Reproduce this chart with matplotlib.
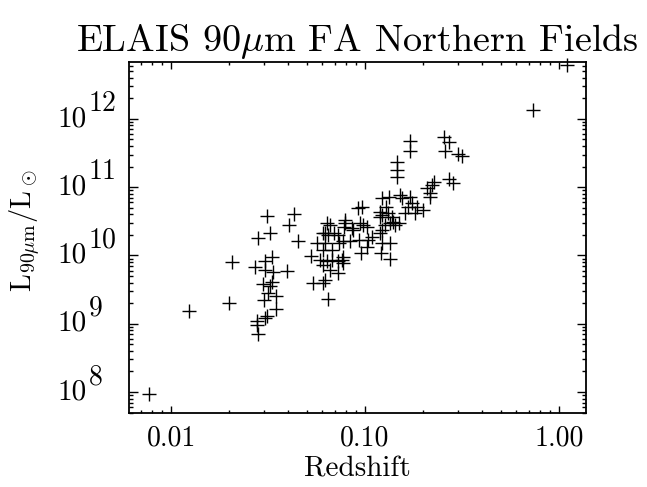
import matplotlib
matplotlib.use("Agg")
import matplotlib.pyplot as plt
from matplotlib.ticker import LogLocator, FixedLocator, FuncFormatter, NullFormatter
from matplotlib.transforms import blended_transform_factory, offset_copy

plt.rcParams["font.family"] = "cmr10"
plt.rcParams["mathtext.fontset"] = "cm"
plt.rcParams["axes.formatter.use_mathtext"] = True

# redshift and 90 micron luminosity (L_sun)
redshift = [
    1.096, 0.737, 0.0123, 0.0200, 0.0206, 0.0077,
    0.170, 0.170, 0.146, 0.146, 0.146, 0.255, 0.272, 0.258, 0.303, 0.317,
    0.271, 0.285, 0.227, 0.208, 0.221, 0.216, 0.215,
    0.152, 0.171, 0.174, 0.167, 0.161, 0.181, 0.185, 0.200,
    0.122, 0.133, 0.129, 0.132, 0.137, 0.135, 0.140, 0.143, 0.149,
    0.120, 0.120, 0.120, 0.122, 0.122, 0.135, 0.121, 0.135,
    0.0635, 0.066, 0.0609, 0.0647, 0.0695, 0.0564, 0.0622, 0.0737,
    0.0527, 0.0587, 0.0635, 0.0673, 0.0758, 0.0609, 0.066, 0.0729,
    0.0542, 0.0622, 0.0609, 0.0642,
    0.0788, 0.0782, 0.0773, 0.0836, 0.0869, 0.0942, 0.098, 0.0923, 0.0968,
    0.0935, 0.104, 0.102, 0.0954, 0.108, 0.0773, 0.0773,
    0.0311, 0.0431, 0.0407, 0.028, 0.0324, 0.0453, 0.0398, 0.0272,
    0.0305, 0.0305, 0.033, 0.0334, 0.0299, 0.033, 0.0324, 0.0317,
    0.0348, 0.0302, 0.0348, 0.0311, 0.0305, 0.0277, 0.0277, 0.0282,
    0.0622, 0.0609, 0.0673, 0.0854, 0.0788, 0.122, 0.127, 0.0729,
    0.0729, 0.102, 0.1546,
]
lum90 = [
    6.24e12, 1.35e12, 1.55e9, 2.0e9, 7.98e9, 9.4e7,
    4.76e11, 3.4e11, 2.32e11, 1.79e11, 1.43e11, 5.5e11, 4.56e11, 3.43e11, 3.04e11, 2.9e11,
    1.31e11, 1.15e11, 1.18e11, 9.67e10, 1.08e11, 8.17e10, 7.28e10,
    7.71e10, 7.28e10, 5.83e10, 5.2e10, 4.16e10, 4.16e10, 5.2e10, 4.65e10,
    6.9e10, 7.28e10, 5.2e10, 4.16e10, 3.71e10, 2.97e10, 3.13e10, 2.8e10, 2.97e10,
    3.71e10, 4.39e10, 2.12e10, 2.37e10, 1.51e10, 1.51e10, 1.08e10, 8.9e9,
    2.97e10, 2.8e10, 2.12e10, 2.0e10, 2.12e10, 1.51e10, 1.51e10, 1.51e10,
    9.86e9, 8.63e9, 8.15e9, 8.63e9, 8.63e9, 7.28e9, 6.15e9, 5.5e9,
    3.93e9, 4.4e9, 3.93e9, 2.29e9,
    2.97e10, 2.65e10, 1.6e10, 1.6e10, 2.37e10, 3.03e10, 2.8e10, 4.93e10, 5.2e10,
    1.69e10, 1.69e10, 1.35e10, 1.1e10, 1.89e10, 9.6e9, 7.7e9,
    3.84e10, 4.06e10, 2.8e10, 1.79e10, 2.12e10, 1.64e10, 6.0e9, 6.88e9,
    8.15e9, 6.15e9, 9.6e9, 5.8e9, 3.84e9, 4.15e9, 3.59e9, 2.8e9,
    2.56e9, 2.19e9, 1.64e9, 1.31e9, 1.21e9, 1.08e9, 9.6e8, 7.1e8,
    2.12e10, 1.21e10, 1.21e10, 2.51e10, 3.32e10, 3.93e10, 2.8e10, 2.0e10,
    8.15e9, 2.65e10, 6.9e10,
]

x_ticks = [0.01, 0.1, 1.0]
y_exponents = [8, 9, 10, 11, 12]

fig = plt.figure(figsize=(6.47, 4.87), dpi=100)
ax = fig.add_axes([0.1994, 0.152, 0.7063, 0.7207])

ax.plot(redshift, lum90, linestyle="none", marker="+", color="black",
        markersize=9.5, markeredgewidth=1.0, clip_on=False)

ax.set_xscale("log")
ax.set_yscale("log")
ax.set_xlim(0.00607, 1.378)
ax.set_ylim(4.93e7, 6.8e12)

ax.xaxis.set_major_locator(FixedLocator(x_ticks))
ax.xaxis.set_major_formatter(FuncFormatter(lambda v, p: "{:.2f}".format(v)))
ax.xaxis.set_minor_locator(LogLocator(base=10, subs=range(2, 10), numticks=20))
ax.xaxis.set_minor_formatter(NullFormatter())
ax.yaxis.set_major_locator(FixedLocator([10.0 ** k for k in y_exponents]))
ax.yaxis.set_major_formatter(NullFormatter())
ax.yaxis.set_minor_locator(LogLocator(base=10, subs=range(2, 10), numticks=20))
ax.yaxis.set_minor_formatter(NullFormatter())

ax.tick_params(which="both", direction="in", top=True, right=True, width=1.0)
ax.tick_params(axis="x", which="major", length=5, pad=8.5, labelsize=20)
ax.tick_params(axis="x", which="minor", length=2.5)
ax.tick_params(axis="y", which="major", length=6.5)
ax.tick_params(axis="y", which="minor", length=3.2)
for s in ax.spines.values():
    s.set_linewidth(1.3)

# IDL-style y labels: big "10" with a nearly full-size exponent
trans = blended_transform_factory(ax.transAxes, ax.transData)
base_tr = offset_copy(trans, fig=fig, x=-42, y=0, units="dots")
exp_tr = offset_copy(trans, fig=fig, x=-40, y=15, units="dots")
for k in y_exponents:
    ax.text(0, 10.0 ** k, "10", transform=base_tr, ha="right", va="center",
            fontsize=21)
    ax.text(0, 10.0 ** k, str(k), transform=exp_tr, ha="left", va="center",
            fontsize=20)

ax.set_xlabel("Redshift", fontsize=21)
ax.xaxis.set_label_coords(0.5, -0.122)
ax.xaxis.label.set_va("top")
ax.set_ylabel(r"L$_{90\mu\mathrm{m}}$/L$_\odot$", fontsize=20.5)
ax.yaxis.set_label_coords(-0.19, 0.52)
ax.set_title(r"ELAIS 90$\mu$m FA Northern Fields", fontsize=27.5, pad=8)

plt.savefig("out.png", dpi=100)
